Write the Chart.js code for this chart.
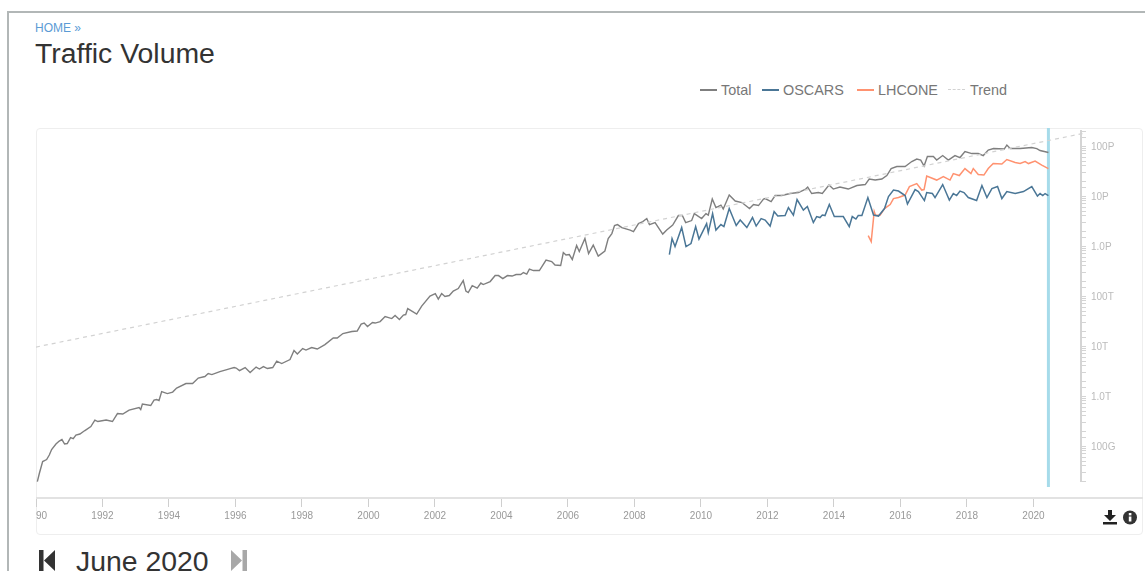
<!DOCTYPE html>
<html><head><meta charset="utf-8">
<script src="https://cdn.jsdelivr.net/npm/chart.js@4"></script>
<style>
html,body{margin:0;padding:0;background:#fff;overflow:hidden;font-family:"Liberation Sans",Arial,sans-serif}
#page{position:relative;width:1145px;height:571px;overflow:hidden}
.abs{position:absolute;white-space:nowrap}
#frame{left:7px;top:11px;width:1145px;height:600px;border-left:2px solid #b2b7b7;border-top:2px solid #b2b7b7;box-sizing:border-box}
#panel{left:36px;top:128px;width:1107px;height:407px;border:1px solid #eee;border-radius:4px;box-sizing:border-box}
#chart{position:absolute;left:36px;top:128px}
#legend span.item{position:absolute;top:0;font-size:14.4px;line-height:16px;color:#777}
</style></head><body><div id="page">
<div class="abs" id="frame"></div>
<div class="abs" style="left:35px;top:21px;font-size:12px;line-height:14px;color:#5b9bd5">HOME »</div>
<div class="abs" style="left:35px;top:37px;font-size:28.4px;line-height:32px;color:#333">Traffic Volume</div>
<div class="abs" id="panel"></div>
<div class="abs" style="left:1081px;top:497px;width:62px;height:2px;background:#e2e2e2"></div>
<canvas id="chart" width="1107" height="406"></canvas>
<div class="abs" id="legend" style="left:0;top:82px;width:1145px;height:16px"></div>
<svg class="abs" style="left:1103px;top:510px" width="36" height="16" viewBox="0 0 36 16">
<path d="M5 0h4v5h4l-6 6-6-6h4z M0 12h14v2.500H0z" fill="#222"/>
<circle cx="27" cy="7.500" r="7" fill="#333"/><rect x="25.800" y="6.500" width="2.600" height="5" fill="#fff"/><rect x="25.800" y="3" width="2.600" height="2.400" fill="#fff"/>
</svg>
<svg class="abs" style="left:39px;top:550px" width="16" height="21" viewBox="0 0 16 21"><path d="M0 0h4.500v21H0z M5 10.500L16 0v21z" fill="#333"/></svg>
<div class="abs" style="left:76px;top:545px;font-size:28.4px;line-height:32px;color:#333">June 2020</div>
<svg class="abs" style="left:231px;top:550px" width="16" height="21" viewBox="0 0 16 21"><path d="M11.500 0H16v21h-4.500z M11 10.500L0 0v21z" fill="#a8a8a8"/></svg>
</div>
<script>
// Values. Years are decimal; volumes are log10(bytes).
const totalYears=[1990.04,1990.10,1990.20,1990.32,1990.40,1990.47,1990.60,1990.70,1990.78,1990.86,1990.94,1991.04,1991.12,1991.20,1991.32,1991.47,1991.65,1991.77,1991.86,1992.11,1992.30,1992.45,1992.61,1992.80,1993.10,1993.15,1993.20,1993.45,1993.55,1993.63,1993.70,1993.78,1993.95,1994.11,1994.23,1994.51,1994.71,1994.88,1995.08,1995.18,1995.29,1995.53,1995.74,1995.84,1995.96,1996.02,1996.12,1996.29,1996.44,1996.62,1996.72,1996.84,1996.96,1997.12,1997.24,1997.39,1997.64,1997.76,1997.86,1998.02,1998.12,1998.29,1998.46,1998.69,1998.94,1999.06,1999.23,1999.50,1999.66,1999.78,1999.87,1999.97,2000.12,2000.20,2000.35,2000.50,2000.70,2000.80,2000.93,2001.05,2001.12,2001.18,2001.45,2001.60,2001.85,2002.01,2002.10,2002.20,2002.30,2002.43,2002.55,2002.70,2002.85,2002.93,2003.00,2003.12,2003.27,2003.38,2003.45,2003.66,2003.81,2003.91,2004.04,2004.18,2004.32,2004.44,2004.58,2004.66,2004.76,2004.84,2004.96,2005.14,2005.34,2005.51,2005.61,2005.78,2005.86,2005.94,2006.04,2006.13,2006.26,2006.34,2006.51,2006.62,2006.76,2006.91,2007.11,2007.21,2007.32,2007.40,2007.49,2007.62,2007.87,2007.97,2008.12,2008.25,2008.37,2008.45,2008.62,2008.85,2008.97,2009.15,2009.32,2009.44,2009.54,2009.72,2009.80,2010.02,2010.15,2010.22,2010.34,2010.45,2010.60,2010.67,2010.85,2011.03,2011.23,2011.46,2011.58,2011.73,2011.88,2011.93,2012.11,2012.23,2012.43,2012.68,2012.93,2013.15,2013.21,2013.33,2013.53,2013.65,2013.85,2013.98,2014.18,2014.43,2014.69,2014.94,2015.06,2015.24,2015.44,2015.59,2015.72,2015.89,2016.14,2016.34,2016.49,2016.61,2016.71,2016.81,2016.99,2017.09,2017.27,2017.44,2017.64,2017.79,2017.94,2018.15,2018.34,2018.49,2018.64,2018.80,2019.12,2019.20,2019.30,2019.60,2019.95,2020.10,2020.20,2020.45];
const totalLog=[10.29,10.45,10.69,10.73,10.82,10.93,11.04,11.10,11.13,11.04,11.05,11.17,11.15,11.22,11.24,11.31,11.39,11.52,11.49,11.52,11.49,11.65,11.64,11.72,11.77,11.73,11.84,11.81,11.92,11.93,11.91,12.09,12.05,12.08,12.16,12.25,12.25,12.36,12.39,12.45,12.43,12.49,12.53,12.55,12.57,12.56,12.51,12.57,12.47,12.58,12.54,12.59,12.55,12.57,12.70,12.65,12.73,12.91,12.84,12.95,12.92,12.97,12.94,13.03,13.16,13.16,13.25,13.29,13.30,13.44,13.46,13.39,13.47,13.46,13.49,13.59,13.55,13.61,13.53,13.62,13.63,13.75,13.64,13.80,14.00,14.05,13.94,14.05,13.99,14.01,14.10,14.15,14.31,14.10,14.07,14.21,14.16,14.26,14.23,14.29,14.41,14.41,14.35,14.41,14.40,14.43,14.43,14.47,14.44,14.54,14.51,14.51,14.72,14.69,14.62,14.61,14.87,14.82,14.83,14.73,15.01,14.89,15.15,14.85,15.02,14.80,14.90,15.15,15.25,15.41,15.43,15.37,15.32,15.29,15.45,15.49,15.55,15.43,15.47,15.24,15.32,15.42,15.61,15.61,15.47,15.51,15.65,15.55,15.65,15.62,15.94,15.77,15.82,15.74,16.02,15.90,15.87,15.75,15.83,15.81,15.94,15.95,15.89,16.01,16.01,16.05,16.07,16.14,16.18,16.05,16.07,16.05,16.22,16.14,16.18,16.14,16.21,16.23,16.34,16.32,16.34,16.41,16.55,16.59,16.59,16.69,16.74,16.72,16.60,16.79,16.79,16.72,16.81,16.72,16.81,16.77,16.89,16.85,16.85,16.81,16.92,16.95,16.94,17.02,16.95,16.95,16.97,16.95,16.91,16.87];
const oscarsYears=[2009.05,2009.13,2009.22,2009.42,2009.55,2009.70,2009.84,2009.94,2010.17,2010.22,2010.35,2010.45,2010.60,2010.69,2010.85,2011.06,2011.18,2011.38,2011.55,2011.66,2011.81,2011.93,2012.08,2012.20,2012.31,2012.53,2012.63,2012.78,2012.89,2013.08,2013.20,2013.38,2013.48,2013.58,2013.65,2013.73,2013.86,2014.01,2014.28,2014.46,2014.55,2014.66,2014.73,2014.84,2015.02,2015.19,2015.34,2015.52,2015.64,2015.79,2015.94,2016.14,2016.21,2016.44,2016.54,2016.72,2016.79,2016.96,2017.04,2017.27,2017.47,2017.59,2017.69,2017.79,2017.91,2018.04,2018.29,2018.45,2018.60,2018.75,2018.92,2019.05,2019.20,2019.45,2019.70,2019.95,2020.12,2020.20,2020.28,2020.35,2020.45];
const oscarsLog=[14.83,15.15,14.99,15.37,14.99,15.05,15.39,15.14,15.45,15.27,15.65,15.32,15.43,15.39,15.75,15.41,15.52,15.37,15.57,15.40,15.55,15.52,15.40,15.69,15.60,15.61,15.77,15.62,15.93,15.72,15.79,15.47,15.59,15.57,15.62,15.61,15.83,15.59,15.59,15.39,15.59,15.54,15.61,15.61,15.97,15.62,15.60,15.75,15.99,16.12,16.10,16.01,15.84,16.13,16.09,15.91,16.07,16.05,15.97,16.23,15.92,16.05,16.01,16.10,16.07,15.97,15.91,16.21,15.97,16.15,16.19,15.95,16.09,16.05,16.09,16.19,16.00,16.05,16.01,16.05,16.01];
const lhconeYears=[2015.03,2015.12,2015.21,2015.25,2015.39,2015.52,2015.69,2015.79,2015.94,2016.14,2016.27,2016.49,2016.64,2016.71,2016.79,2017.09,2017.29,2017.49,2017.59,2017.77,2017.94,2018.12,2018.19,2018.34,2018.51,2018.64,2018.79,2019.05,2019.20,2019.45,2019.60,2019.75,2019.85,2020.05,2020.25,2020.45];
const lhconeLog=[15.21,15.09,15.69,15.61,15.62,15.75,15.83,15.95,15.97,16.02,16.19,16.25,16.12,16.13,16.40,16.32,16.39,16.32,16.45,16.41,16.55,16.45,16.55,16.43,16.42,16.55,16.65,16.64,16.73,16.67,16.65,16.69,16.65,16.70,16.62,16.55];
const trendYears=[1990,2021.55];
const trendLog=[12.98,17.26];
const cursorYears=[2020.45,2020.45];
const cursorLog=[17.36,10.18];
const yTickLabels={11:"100G",12:"1.0T",13:"10T",14:"100T",15:"1.0P",16:"10P",17:"100P"};
const seriesNames=["Total","OSCARS","LHCONE","Trend"];
const seriesColors=["#7f7f7f","#4a7696","#ff9270","#d2d2d2"];

const pts=(xs,ls)=>xs.map((x,i)=>({x,y:Math.pow(10,ls[i])}));
const line=(label,xs,ls,color,width,dash)=>({label,data:pts(xs,ls),borderColor:color,backgroundColor:color,borderWidth:width,borderDash:dash||[],pointRadius:0,tension:0,fill:false,clip:false});

new Chart(document.getElementById('chart'),{
  type:'line',
  data:{datasets:[
    line(seriesNames[3],trendYears,trendLog,seriesColors[3],1.2,[4,4]),
    line(seriesNames[0],totalYears,totalLog,seriesColors[0],1.4),
    line(seriesNames[1],oscarsYears,oscarsLog,seriesColors[1],1.5),
    line(seriesNames[2],lhconeYears,lhconeLog,seriesColors[2],1.5),
    line("June 2020",cursorYears,cursorLog,"#a6dbea",3)
  ]},
  options:{
    responsive:false,animation:false,
    layout:{padding:{top:3,bottom:53,left:0,right:0}},
    plugins:{legend:{display:false},tooltip:{enabled:false}},
    scales:{
      x:{type:'linear',axis:'x',min:1990,max:2021.43,position:{y:Math.pow(10,9.96)},
        border:{color:'#e2e2e2',width:2},
        grid:{drawOnChartArea:false,tickLength:8,tickColor:'#cfcfcf',tickWidth:1},
        ticks:{stepSize:2,includeBounds:false,autoSkip:false,maxRotation:0,padding:4,color:'#999',font:{family:'"Liberation Sans",Arial,sans-serif',size:10},callback:v=>String(v)},
        afterFit:s=>{s.paddingLeft=0;s.paddingRight=0;}
      },
      y:{type:'logarithmic',position:'right',min:2e10,max:2e17,
        border:{color:'#d4d4d4',width:2},
        grid:{drawOnChartArea:false,tickLength:5,tickColor:'#d4d4d4',tickWidth:1},
        ticks:{autoSkip:false,padding:5,labelOffset:1,color:'#bbb',font:{family:'"Liberation Sans",Arial,sans-serif',size:10},
          callback:v=>{const e=Math.log10(v);const r=Math.round(e);return Math.abs(e-r)<1e-6?(yTickLabels[r]||""):"";}},
        afterFit:s=>{s.width=62;s.paddingTop=0;s.paddingBottom=0;}
      }
    }
  }
});

// HTML legend placed as in the reference
const legendX=[[700,721],[762,783],[857,878],[948,970]];
const legend=document.getElementById('legend');
seriesNames.forEach((n,i)=>{
  const s=document.createElement('span');s.className='item';s.textContent=n;s.style.left=legendX[i][1]+'px';legend.appendChild(s);
  const l=document.createElement('span');
  l.style.cssText='position:absolute;top:7px;height:0;width:17px;left:'+legendX[i][0]+'px;border-top:'+(i===3?'1px dashed ':'2px solid ')+seriesColors[i];
  legend.appendChild(l);
});
</script></body></html>
